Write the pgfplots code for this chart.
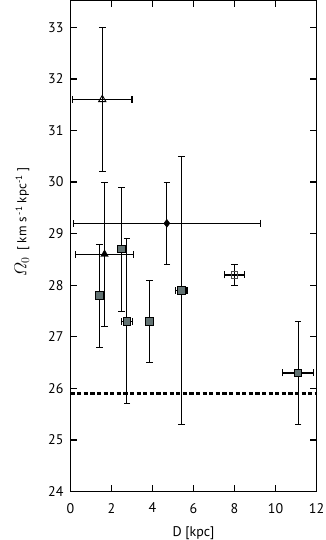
\documentclass[border=0pt]{standalone}
\usepackage{amsmath}
\usepackage{fontspec}
\setmainfont{PT Sans}
\usepackage{pgfplots}
\pgfplotsset{compat=1.18}
\usepackage{pgfplotstable}

\definecolor{sqfill}{RGB}{98,114,114}
\definecolor{xbar}{RGB}{100,100,100}

% x  y  x-error  y-error
\pgfplotstableread{
x y ex ey
1.55 31.6 1.45 1.4
}\opentri
\pgfplotstableread{
x y ex ey
1.66 28.6 1.42 1.4
}\filltri
\pgfplotstableread{
x y ex ey
4.70 29.2 4.56 0.8
}\diam
\pgfplotstableread{
x y ex ey
1.40 27.8 0 1.0
2.50 28.7 0 1.2
2.75 27.3 0.28 1.6
3.85 27.3 0 0.8
5.40 27.9 0.28 2.6
11.1 26.3 0.75 1.0
}\sqfilled
\pgfplotstableread{
x y ex ey
8.0 28.2 0.5 0.2
}\sqopen

\begin{document}
\begin{tikzpicture}
\useasboundingbox (-70.5pt,-48.5pt) rectangle (254.5pt,491.5pt);
\begin{axis}[
  scale only axis, width=246pt, height=491.5pt,
  xmin=0, xmax=12, ymin=24, ymax=33.53,
  xtick={0,2,...,12}, ytick={24,25,...,33},
  tick align=inside, major tick length=6.5pt,
  axis line style={line width=1.4pt},
  every tick/.style={black, line width=1.3pt},
  ticklabel style={font=\fontsize{14}{16}\selectfont},
  /pgf/number format/assume math mode=true,
  xticklabel style={yshift=-8pt},
  yticklabel style={xshift=-3.5pt},
  xlabel={D [kpc]},
  xlabel style={font=\fontsize{14}{16}\selectfont, at={(axis description cs:0.5,0)}, anchor=center, yshift=-42pt},
  ylabel={{\fontsize{17}{19}\selectfont$\varOmega_0$}\enspace[ km s\,\textsuperscript{-1} kpc\textsuperscript{-1} ]},
  ylabel style={font=\fontsize{13}{15}\selectfont, at={(axis description cs:-0.197,0.548)}, anchor=center},
  xe/.style={forget plot, draw=none, mark=none,
    error bars/.cd, x dir=both, x explicit,
    error bar style={xbar, line width=1.4pt},
    error mark options={xbar, line width=1.2pt, mark size=3.5pt, rotate=90},
    /pgfplots/.cd},
  ye/.style={only marks,
    error bars/.cd, y dir=both, y explicit,
    error bar style={black, line width=0.8pt},
    error mark options={black, line width=0.8pt, mark size=3.3pt, rotate=90},
    /pgfplots/.cd},
]
% horizontal error bars (grey)
\addplot[xe] table[x=x, y=y, x error=ex] {\opentri};
\addplot[xe] table[x=x, y=y, x error=ex] {\filltri};
\addplot[xe] table[x=x, y=y, x error=ex] {\diam};
\addplot[xe] table[x=x, y=y, x error=ex] {\sqfilled};
\addplot[xe] table[x=x, y=y, x error=ex] {\sqopen};

% reference level
\addplot[black, line width=2.6pt, dash pattern=on 4.2pt off 2.4pt] coordinates {(0,25.9) (12,25.9)};

% vertical error bars + markers
\addplot[ye, mark=triangle, mark size=4.2pt, mark options={black, fill=white, line width=0.9pt}]
  table[x=x, y=y, y error=ey] {\opentri};
\addplot[ye, mark=triangle*, mark size=4.4pt, mark options={black, fill=black}]
  table[x=x, y=y, y error=ey] {\filltri};
\addplot[ye, mark=diamond*, mark size=4pt, mark options={black, fill=black}]
  table[x=x, y=y, y error=ey] {\diam};
\addplot[ye, mark=square*, mark size=3.8pt, mark options={draw=black, fill=sqfill, line width=1pt}]
  table[x=x, y=y, y error=ey] {\sqfilled};
\addplot[ye, mark=square, mark size=3.4pt, mark options={draw=black!70, line width=0.9pt}]
  table[x=x, y=y, y error=ey] {\sqopen};
\end{axis}
\end{tikzpicture}
\end{document}
